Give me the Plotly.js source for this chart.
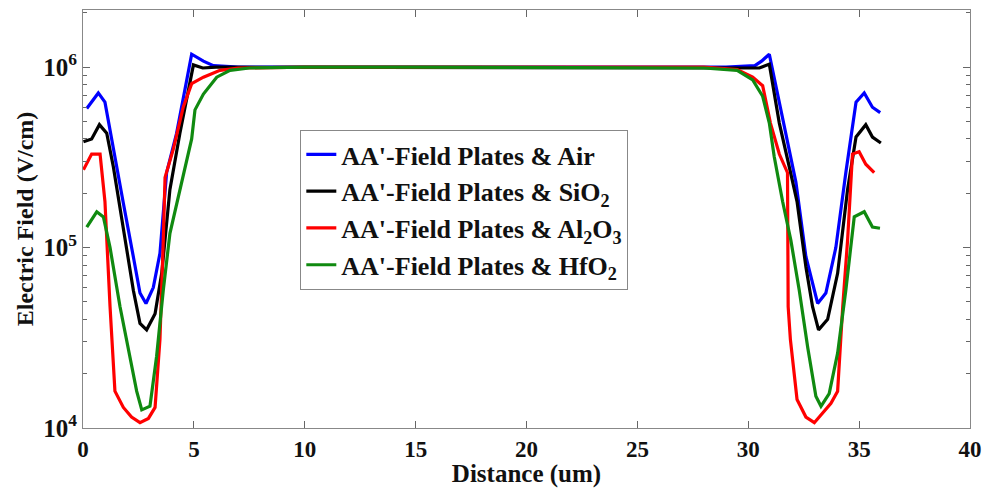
<!DOCTYPE html>
<html><head><meta charset="utf-8">
<script src="https://cdn.plot.ly/plotly-3.0.1.min.js"></script>
<style>html,body{margin:0;padding:0;background:#fff}#chart{width:989px;height:488px}</style>
</head><body><div id="chart"></div>
<script>
const seriesNames = ["AA'-Field Plates & Air","AA'-Field Plates & SiO<sub>2</sub>","AA'-Field Plates & Al<sub>2</sub>O<sub>3</sub>","AA'-Field Plates & HfO<sub>2</sub>"];
const colors = ["#0000ff","#000000","#ff0000","#108a10"];

const airX = [0.17,0.69,0.99,1.37,1.82,2.27,2.57,2.84,3.17,3.47,3.77,4.22,4.6,4.9,5.43,5.88,7,10,15,20,25,29,30.3,30.6,30.95,31.7,32.15,32.6,33.13,33.5,33.95,34.4,34.86,35.23,35.6,35.95];
const airY = [5.9e5,7.2e5,6.4e5,3.5e5,1.76e5,8.9e4,5.6e4,4.9e4,6.0e4,9.3e4,2.6e5,4.3e5,7.5e5,1.18e6,1.08e6,1.02e6,1e6,1e6,1e6,1e6,1e6,1e6,1.02e6,1.08e6,1.18e6,4.3e5,2.3e5,8.9e4,4.9e4,5.6e4,1.0e5,2.6e5,6.4e5,7.2e5,6.0e5,5.6e5];

const sioX = [0.02,0.39,0.74,1.07,1.37,1.82,2.27,2.57,2.87,3.25,3.55,3.92,4.37,4.98,5.4,6,10,15,20,25,29,30.5,30.95,31.4,31.85,32.2,32.6,32.9,33.17,33.58,34.03,34.48,34.86,35.3,35.6,35.98];
const sioY = [3.86e5,4.0e5,4.8e5,4.3e5,2.8e5,1.3e5,5.8e4,3.8e4,3.5e4,4.3e4,7.2e4,2.1e5,4.3e5,1.03e6,0.99e6,1e6,1e6,1e6,1e6,1e6,1e6,0.99e6,1.04e6,4.9e5,2.8e5,1.8e5,7.8e4,4.7e4,3.5e4,4.0e4,7.2e4,2.1e5,4.1e5,4.8e5,4.1e5,3.8e5];

const alX = [0.02,0.39,0.77,0.99,1.22,1.44,1.82,2.19,2.57,2.95,3.25,3.47,3.62,3.7,4.07,4.52,4.9,5.43,6.18,7,10,15,20,25,28,29.5,30.2,30.65,31.0,31.4,31.77,31.8,31.9,32.2,32.6,32.98,33.35,33.73,34.03,34.26,34.48,34.7,35.0,35.3,35.68];
const alY = [2.7e5,3.3e5,3.3e5,1.8e5,4.7e4,1.6e4,1.3e4,1.15e4,1.07e4,1.13e4,1.3e4,3.1e4,1.1e5,2.45e5,3.5e5,6.0e5,8.1e5,8.8e5,9.6e5,0.99e6,1e6,1e6,1e6,1e6,1e6,0.97e6,8.8e5,7.9e5,4.9e5,3.3e5,2.6e5,4.7e4,3.1e4,1.44e4,1.15e4,1.07e4,1.2e4,1.37e4,1.6e4,4.7e4,1.1e5,3.3e5,3.4e5,2.9e5,2.6e5];

const hfX = [0.17,0.62,0.92,1.22,1.67,2.12,2.42,2.65,3.02,3.32,3.62,3.92,4.37,4.9,5.05,5.43,6.03,6.63,7.5,10,15,20,25,28,29.5,30.2,30.65,30.95,31.17,31.55,31.92,32.3,32.68,33.05,33.28,33.65,34.03,34.4,34.78,35.23,35.6,35.94];
const hfY = [1.3e5,1.58e5,1.48e5,1.0e5,4.7e4,2.5e4,1.6e4,1.26e4,1.32e4,2.5e4,5.8e4,1.2e5,2.1e5,4.0e5,5.8e5,7.1e5,8.8e5,9.6e5,0.99e6,1e6,1e6,1e6,1e6,0.99e6,0.96e6,8.5e5,6.9e5,4.9e5,3.2e5,1.8e5,1.1e5,5.8e4,2.8e4,1.5e4,1.32e4,1.55e4,2.6e4,5.8e4,1.48e5,1.58e5,1.3e5,1.28e5];

const xTicks = [0,5,10,15,20,25,30,35,40];
const yTickVals = [1e4,1e5,1e6];
const yTickText = ["10<sup>4</sup>","10<sup>5</sup>","10<sup>6</sup>"];
const yMinor = [2e4,3e4,4e4,5e4,6e4,7e4,8e4,9e4,2e5,3e5,4e5,5e5,6e5,7e5,8e5,9e5,2e6];

const xs = [airX,sioX,alX,hfX], ys = [airY,sioY,alY,hfY];
const fam = "Liberation Serif, Times New Roman, serif";
const traces = xs.map((x,i)=>({
  x:x, y:ys[i], type:'scatter', mode:'lines', name:seriesNames[i],
  line:{color:colors[i], width:3.2}
}));

const layout = {
  width:989, height:488,
  margin:{l:83, r:19, t:10, b:60},
  paper_bgcolor:'#fff', plot_bgcolor:'#fff',
  font:{family:fam, size:22, color:'#111'},
  showlegend:true,
  legend:{x:0.245, y:0.713, xanchor:'left', yanchor:'top', bgcolor:'#fff',
    bordercolor:'#888', borderwidth:1,
    font:{family:fam, size:26, color:'#111', weight:'bold'},
    tracegroupgap:0, itemwidth:30},
  xaxis:{range:[0,40], tickmode:'array', tickvals:xTicks, ticks:'inside', ticklen:7,
    tickcolor:'#666', showline:true, linecolor:'#888', linewidth:1, mirror:'ticks',
    showgrid:false, zeroline:false, ticklabelstandoff:0,
    tickfont:{family:fam, size:23, color:'#111', weight:'bold'},
    title:{text:'Distance (um)', font:{family:fam, size:25, color:'#111', weight:'bold'}, standoff:0}},
  yaxis:{type:'log', range:[4, 6.317], tickmode:'array', tickvals:yTickVals, ticktext:yTickText,
    ticks:'inside', ticklen:7, tickcolor:'#666', showline:true, linecolor:'#888', linewidth:1,
    mirror:'ticks', showgrid:false, zeroline:false,
    minor:{tickvals:yMinor, ticks:'inside', ticklen:4, tickcolor:'#666', showgrid:false},
    tickfont:{family:fam, size:25, color:'#111', weight:'bold'},
    title:{text:'Electric Field (V/cm)', font:{family:fam, size:24, color:'#111', weight:'bold'}, standoff:2}}
};
Plotly.newPlot('chart', traces, layout, {staticPlot:true, displayModeBar:false});
</script></body></html>
